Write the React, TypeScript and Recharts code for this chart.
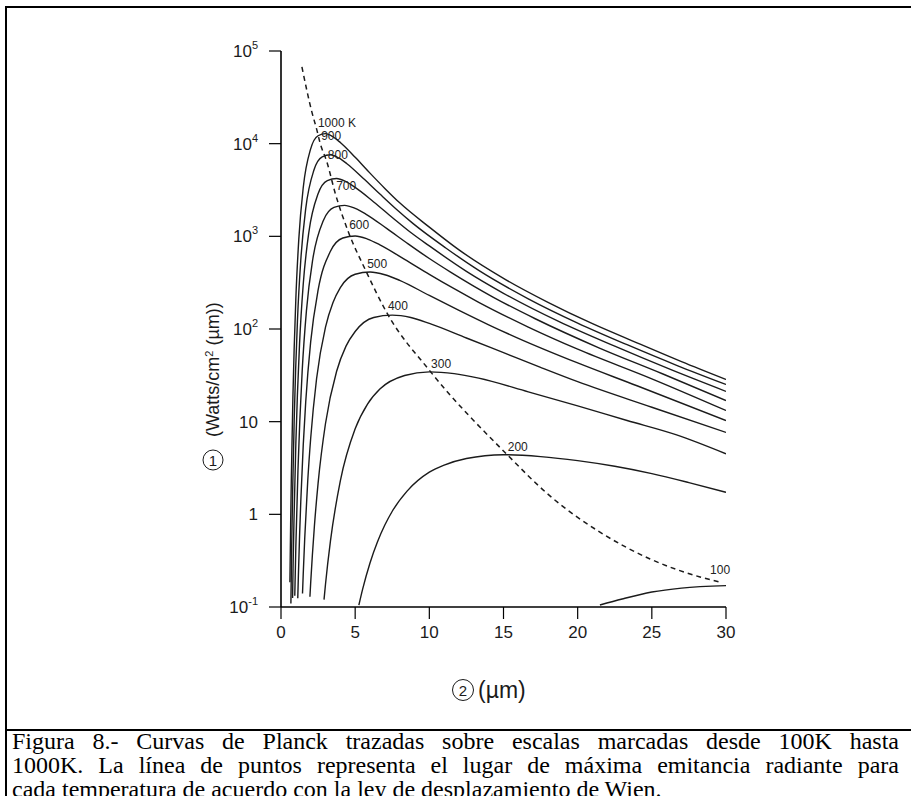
import { LineChart, Line, XAxis, YAxis, LabelList } from "recharts";

// Planck curves: [wavelength (µm), exitance]
const curve1000 = [[0.6, 0.185], [0.65, 0.786], [0.7, 2.64], [0.8, 17.7], [1, 211], [1.2, 933], [1.5, 3365], [2, 8790], [2.5, 12170], [3, 12830], [3.5, 11880], [4, 10300], [5, 7140], [6, 4810], [7, 3290], [8, 2300], [10, 1257], [12, 714], [15, 352], [18, 194], [21, 114], [24, 70.9], [27, 44.4], [30, 28.5]];
const curve900 = [[0.667, 0.109], [0.722, 0.464], [0.778, 1.56], [0.889, 10.4], [1.111, 125], [1.333, 551], [1.667, 1990], [2.222, 5190], [2.778, 7190], [3.333, 7580], [3.889, 7010], [4.444, 6080], [5.556, 4210], [6.667, 2860], [7.778, 1960], [8.889, 1380], [11.11, 749], [13.33, 429], [16.67, 212], [20, 116], [23.33, 67.7], [26.67, 40.6], [30, 25.2]];
const curve800 = [[0.78, 0.125], [0.8125, 0.258], [0.875, 0.865], [1, 5.79], [1.25, 69.1], [1.5, 306], [1.875, 1100], [2.5, 2880], [3.125, 3990], [3.75, 4210], [4.375, 3890], [5, 3370], [6.25, 2350], [7.5, 1600], [8.75, 1100], [10, 788], [12.5, 419], [15, 243], [18.75, 120], [22.5, 65.2], [26.25, 36.6], [30, 21.2]];
const curve700 = [[0.929, 0.132], [1.0, 0.444], [1.143, 2.97], [1.429, 35.5], [1.714, 157], [2.143, 566], [2.857, 1480], [3.571, 2050], [4.286, 2160], [5, 2000], [5.714, 1740], [7.143, 1210], [8.571, 830], [10, 576], [11.43, 411], [14.29, 221], [17.14, 129], [21.43, 62.7], [25.71, 32.9], [30, 16.9]];
const curve600 = [[1.13, 0.124], [1.167, 0.205], [1.25, 0.572], [1.333, 1.37], [1.5, 5.62], [1.667, 16.4], [2, 72.5], [2.5, 262], [3.333, 690], [4.167, 960], [5, 1010], [5.833, 935], [6.667, 810], [8.333, 565], [10, 389], [11.67, 272], [13.33, 194], [16.67, 105], [20, 60.6], [25, 29.0], [30, 13.2]];
const curve500 = [[1.45, 0.14], [1.5, 0.23], [1.6, 0.552], [1.8, 2.26], [2, 6.59], [2.4, 29.2], [3, 105], [3.5, 192], [4, 280], [5, 390], [6, 412], [7, 385], [8, 335], [10, 230], [12, 159], [14, 111], [16, 79.3], [20, 43.0], [24, 24.4], [30, 10.3]];
const curve400 = [[1.95, 0.129], [2, 0.181], [2.25, 0.74], [2.5, 2.16], [3, 9.55], [3.75, 35], [4.375, 65], [5, 94], [6.25, 133], [7.5, 141], [8.75, 133], [10, 115], [12.5, 80], [15, 55.5], [17.5, 38.5], [20, 27], [25, 14.3], [30, 7.65]];
const curve300 = [[2.9, 0.12], [3, 0.176], [3.333, 0.513], [4, 2.3], [5, 8.4], [5.833, 15.5], [6.667, 22.5], [8.333, 31.5], [10, 34.5], [11.67, 33], [13.33, 29.5], [16.67, 21], [20, 14.8], [23.33, 10.3], [26.67, 7.2], [30, 4.5]];
const curve200 = [[5.25, 0.105], [5.5, 0.155], [6, 0.299], [6.5, 0.503], [7, 0.766], [7.5, 1.08], [8.5, 1.78], [10, 2.85], [11, 3.4], [12.5, 4.0], [15, 4.4], [17.5, 4.2], [20, 3.8], [22.5, 3.3], [25, 2.75], [27.5, 2.2], [30, 1.73]];
const curve100 = [[21.5, 0.105], [23, 0.122], [25, 0.145], [27, 0.16], [30, 0.17]];

const curves = [curve1000, curve900, curve800, curve700, curve600, curve500, curve400, curve300, curve200, curve100];

// Wien displacement locus (dotted line) and the temperature labels on it
const wienLambda = [1.41, 2.08, 2.42, 2.64, 3.09, 3.65, 4.53, 5.74, 7.14, 10.05, 15.22, 18.13, 21.5, 24.88, 28.25, 29.6];
const wienValue = [67300, 22000, 14000, 10100, 6380, 2940, 1127, 418, 149, 35.1, 4.45, 1.58, 0.643, 0.33, 0.211, 0.186];
const wienLabels = ["", "", "1000 K", "900", "800", "700", "600", "500", "400", "300", "200", "", "", "", "", "100"];

const xTicks = [0, 5, 10, 15, 20, 25, 30];
const yTicks = [0.1, 1, 10, 100, 1000, 10000, 100000];
const yTickBase = ["10", "1", "10", "10", "10", "10", "10"];
const yTickExp = ["-1", "", "", "2", "3", "4", "5"];

// caption, broken the way the figure breaks it
const captionLines = [
  "Figura 8.- Curvas de Planck trazadas sobre escalas marcadas desde 100K hasta",
  "1000K. La línea de puntos representa el lugar de máxima emitancia radiante para",
  "cada temperatura de acuerdo con la ley de desplazamiento de Wien.",
];

const wienData = wienLambda.map((l, i) => ({ l, v: wienValue[i], label: wienLabels[i] }));

const sans = "Arial, 'Liberation Sans', Helvetica, sans-serif";
const ink = "#1b1b1b";

function YTick(props: any) {
  const { x, y, payload } = props;
  const i = yTicks.indexOf(payload.value);
  return (
    <text x={x} y={y} dy={6} textAnchor="end" fontFamily={sans} fontSize={17} fill={ink}>
      {yTickBase[i]}
      {yTickExp[i] && (
        <tspan dy={-8} fontSize={11}>
          {yTickExp[i]}
        </tspan>
      )}
    </text>
  );
}

function XTick(props: any) {
  const { x, y, payload } = props;
  return (
    <text x={x} y={y} dy={17} textAnchor="middle" fontFamily={sans} fontSize={17} fill={ink}>
      {payload.value}
    </text>
  );
}

function WienLabel(props: any) {
  const { x, y, value } = props;
  if (!value) return null;
  const last = value === "100";
  return (
    <text
      x={last ? x : x + 1}
      y={last ? y - 8 : y - 3}
      textAnchor={last ? "middle" : "start"}
      fontFamily={sans}
      fontSize={12}
      fill="#222"
    >
      {value}
    </text>
  );
}

function YTitle() {
  return (
    <g fontFamily={sans} fill={ink}>
      <circle cx={213} cy={460} r={10} fill="none" stroke={ink} strokeWidth={1} />
      <text x={213} y={465.5} textAnchor="middle" fontSize={15}>
        1
      </text>
      <text transform="translate(219, 437) rotate(-90)" fontSize={18}>
        (Watts/cm
        <tspan dy={-6} fontSize={11}>
          2
        </tspan>
        <tspan dy={6}> (µm))</tspan>
      </text>
    </g>
  );
}

function XTitle() {
  return (
    <g fontFamily={sans} fill={ink}>
      <circle cx={463} cy={690} r={10.5} fill="none" stroke={ink} strokeWidth={1} />
      <text x={463} y={696} textAnchor="middle" fontSize={15}>
        2
      </text>
      <text x={478} y={698} fontSize={23}>
        (µm)
      </text>
    </g>
  );
}

export default function App() {
  return (
    <div
      style={{
        position: "fixed",
        left: 0,
        top: 0,
        width: 911,
        height: 796,
        overflow: "hidden",
        background: "#fff",
      }}
    >
      <div
        style={{
          position: "absolute",
          left: 5,
          top: 6,
          width: 1000,
          height: 900,
          borderLeft: "2px solid #000",
          borderTop: "2px solid #000",
        }}
      />
      <div style={{ position: "absolute", left: 0, top: 0 }}>
        <LineChart width={911} height={720} margin={{ top: 51, right: 185, bottom: 0, left: 0 }}>
          <XAxis
            dataKey="l"
            type="number"
            domain={[0, 30]}
            ticks={xTicks}
            allowDataOverflow
            height={113}
            tickSize={12}
            tickMargin={2}
            tick={<XTick />}
            axisLine={{ stroke: "#000", strokeWidth: 1.6 }}
            tickLine={{ stroke: "#000", strokeWidth: 1.2 }}
            label={{ content: () => <XTitle /> }}
          />
          <YAxis
            type="number"
            scale="log"
            domain={[0.1, 100000]}
            ticks={yTicks}
            allowDataOverflow
            width={281}
            tickSize={12}
            tickMargin={11}
            tick={<YTick />}
            axisLine={{ stroke: "#000", strokeWidth: 1.6 }}
            tickLine={{ stroke: "#000", strokeWidth: 1.2 }}
            label={{ content: () => <YTitle /> }}
          />
          {curves.map((c, i) => (
            <Line
              key={i}
              data={c.map(([l, v]) => ({ l, v }))}
              dataKey="v"
              type="monotone"
              stroke={ink}
              strokeWidth={1.4}
              dot={false}
              activeDot={false}
              isAnimationActive={false}
            />
          ))}
          <Line
            data={wienData}
            dataKey="v"
            type="monotone"
            stroke={ink}
            strokeWidth={1.5}
            strokeDasharray="5 4"
            dot={false}
            activeDot={false}
            isAnimationActive={false}
          >
            <LabelList dataKey="label" content={<WienLabel />} />
          </Line>
        </LineChart>
      </div>
      <div style={{ position: "absolute", left: 5, top: 729, width: 1000, height: 2, background: "#000" }} />
      <div
        style={{
          position: "absolute",
          left: 12,
          top: 729,
          width: 887,
          fontFamily: "'Liberation Serif', 'Times New Roman', serif",
          fontSize: 24,
          lineHeight: "24px",
          color: "#000",
        }}
      >
        {captionLines.map((line, i) => (
          <div
            key={i}
            style={{
              textAlign: i < captionLines.length - 1 ? "justify" : "left",
              textAlignLast: i < captionLines.length - 1 ? "justify" : "left",
              whiteSpace: "nowrap",
            }}
          >
            {line}
          </div>
        ))}
      </div>
    </div>
  );
}
